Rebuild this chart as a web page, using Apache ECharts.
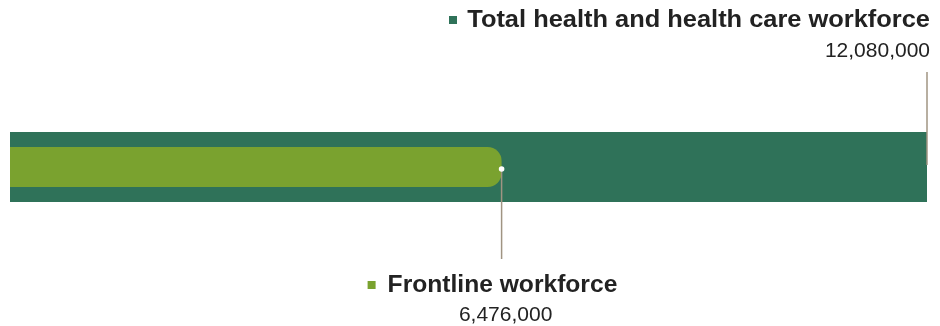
<!DOCTYPE html>
<html>
<head>
<meta charset="utf-8">
<style>
  html, body { margin: 0; padding: 0; background: #ffffff; }
  #chart { width: 940px; height: 326px; }
</style>
<script src="https://cdn.jsdelivr.net/npm/echarts@6/dist/echarts.min.js"></script>
</head>
<body>
<div id="chart"></div>
<script>
// Workforce sizes
const categories = ['Workforce'];
const seriesNames = ['Total health and health care workforce', 'Frontline workforce'];
const totalWorkforce = [12080000];
const frontlineWorkforce = [6476000];
const seriesColors = ['#2f7259', '#7aa22f'];

const fmt = v => v.toLocaleString('en-US');
const TITLE_FONT = 'bold 23px "Liberation Sans", Arial, Helvetica, sans-serif';
const VALUE_FONT = '21px "Liberation Sans", Arial, Helvetica, sans-serif';
const LEADER = '#a09482';
const INK = '#222222';

const chart = echarts.init(document.getElementById('chart'), null, { renderer: 'canvas' });

// wide grotesque headline: stretch the bold face horizontally
function headline(text, x, y, align, stretch) {
  return {
    type: 'text', x: x, y: y, scaleX: stretch, scaleY: 1,
    style: { text: text, x: 0, y: 0, align: align, verticalAlign: 'middle',
      font: TITLE_FONT, fill: INK }
  };
}

function renderCallout(params, api) {
  const which = api.value(2);
  const p = api.coord([api.value(0), api.value(1)]);
  const x = p[0], cy = p[1];
  const value = api.value(0);
  if (which === 0) {
    // total: leader rises from the bar end to the label above
    return {
      type: 'group',
      children: [
        { type: 'line', shape: { x1: x, y1: 72, x2: x, y2: cy - 2 },
          style: { stroke: LEADER, lineWidth: 1.5 } },
        { type: 'rect', shape: { x: x - 478, y: 16, width: 8, height: 8 },
          style: { fill: seriesColors[0] } },
        headline(seriesNames[0], x + 3, 21, 'right', 1.105),
        { type: 'text', style: { text: fmt(value), x: x + 3, y: 51,
          align: 'right', verticalAlign: 'middle',
          font: VALUE_FONT, fill: INK } }
      ]
    };
  }
  // frontline: dot at bar end, leader falls to the label below
  return {
    type: 'group',
    children: [
      { type: 'line', shape: { x1: x, y1: cy + 2, x2: x, y2: 259 },
        style: { stroke: LEADER, lineWidth: 1.5 } },
      { type: 'circle', shape: { cx: x, cy: cy + 2, r: 2.8 },
        style: { fill: '#ffffff' } },
      { type: 'rect', shape: { x: x - 134, y: 281, width: 8, height: 8 },
        style: { fill: seriesColors[1] } },
      headline(seriesNames[1], x - 114, 286, 'left', 1.07),
      { type: 'text', style: { text: fmt(value), x: x + 4, y: 315,
        align: 'center', verticalAlign: 'middle',
        font: VALUE_FONT, fill: INK } }
    ]
  };
}

const calloutData = [
  [totalWorkforce[0], 0, 0],
  [frontlineWorkforce[0], 0, 1]
];

chart.setOption({
  animation: false,
  grid: { left: 10, right: 13, top: 132, height: 70, containLabel: false },
  xAxis: {
    type: 'value', min: 0, max: totalWorkforce[0],
    show: false
  },
  // one hidden category axis per bar so each bar is centred on its own band
  yAxis: [
    { type: 'category', data: categories, show: false },
    { type: 'category', data: categories, show: false }
  ],
  series: [
    {
      name: seriesNames[0], type: 'bar', data: totalWorkforce, yAxisIndex: 0,
      barWidth: 70,
      itemStyle: { color: seriesColors[0] }, silent: true
    },
    {
      name: seriesNames[1], type: 'bar', data: frontlineWorkforce, yAxisIndex: 1,
      barWidth: 40,
      itemStyle: { color: seriesColors[1], borderRadius: [0, 14, 14, 0] }, silent: true
    },
    {
      type: 'custom', data: calloutData, renderItem: renderCallout, yAxisIndex: 0,
      z: 10, silent: true, clip: false
    }
  ]
});
</script>
</body>
</html>
